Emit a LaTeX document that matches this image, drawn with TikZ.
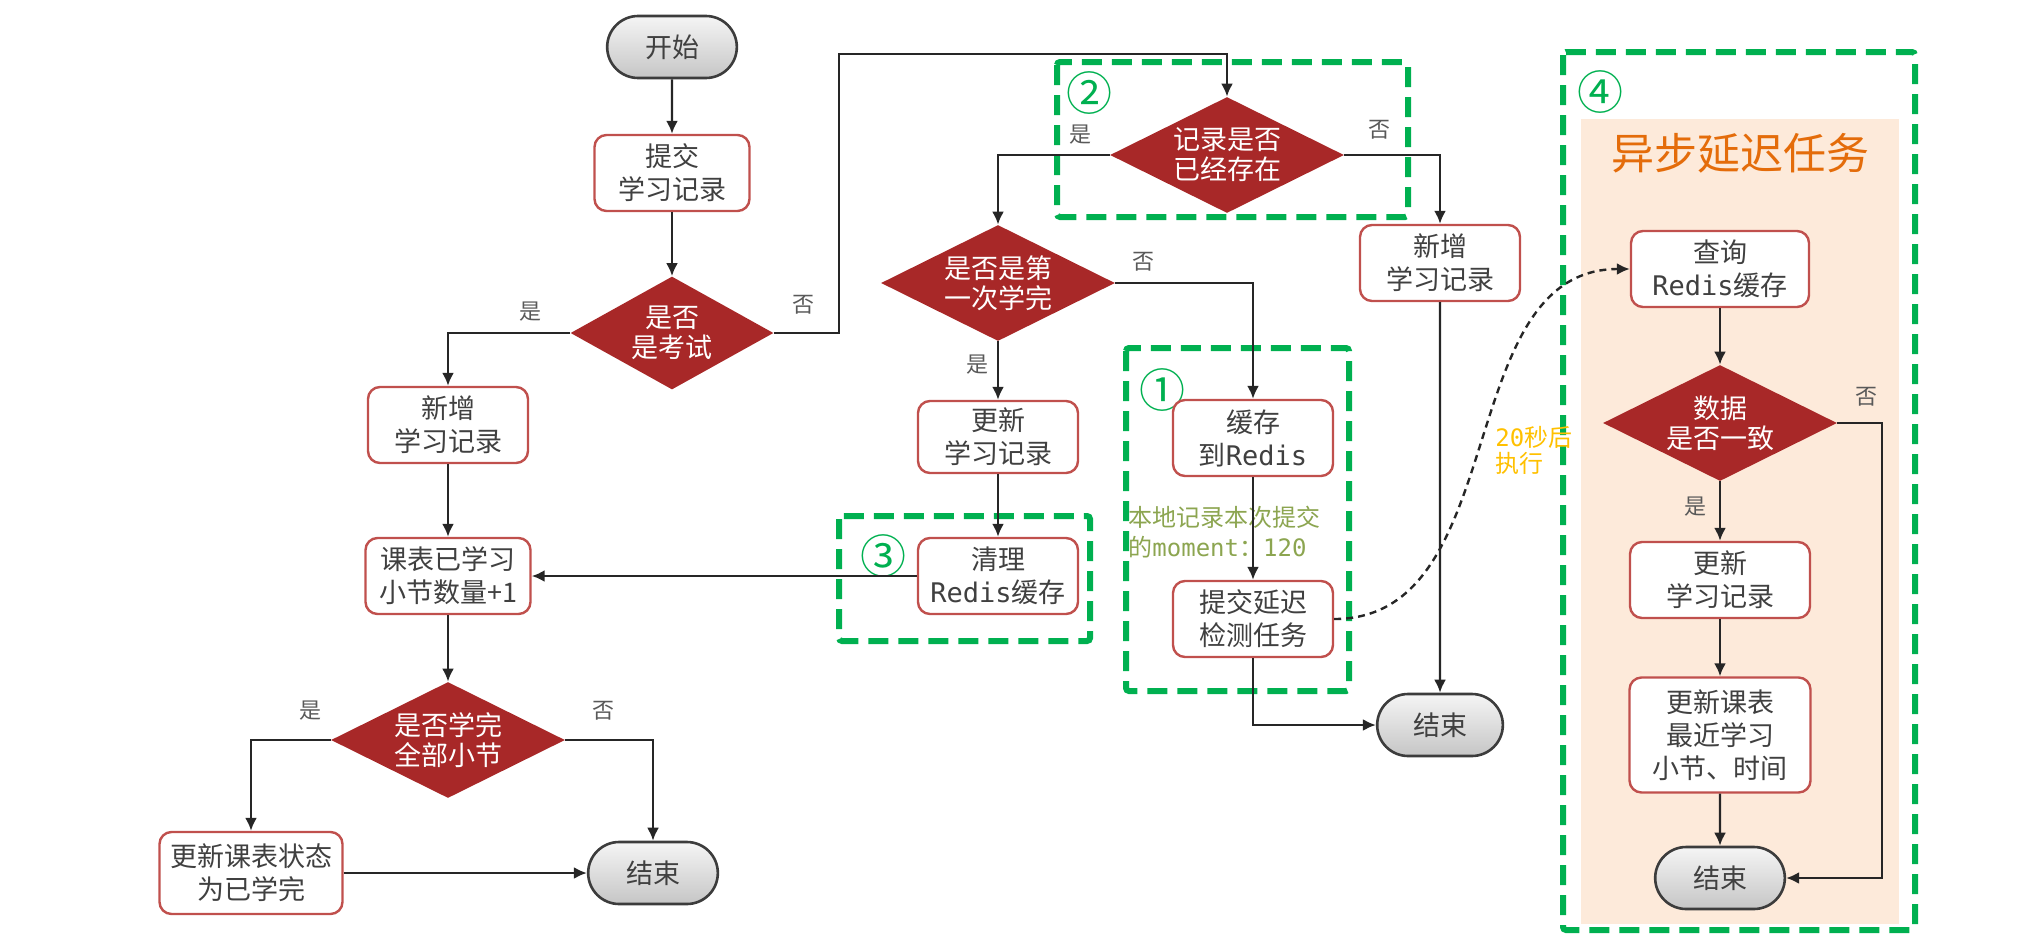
\documentclass[tikz,border=0pt]{standalone}
\usepackage{fontspec}
\setmainfont{Noto Sans CJK SC}
\newfontfamily\monof{DejaVu Sans Mono}
\usetikzlibrary{shapes.geometric,shapes.misc,arrows.meta}
\definecolor{boxred}{RGB}{192,80,77}
\definecolor{diared}{RGB}{168,40,40}
\definecolor{txtgray}{RGB}{64,64,64}
\definecolor{lblgray}{RGB}{89,89,89}
\definecolor{termgray}{RGB}{60,60,60}
\definecolor{grbox}{RGB}{0,176,80}
\definecolor{peach}{RGB}{253,234,218}
\definecolor{titleorange}{RGB}{228,108,10}
\definecolor{notegreen}{RGB}{140,165,80}
\definecolor{noteyellow}{RGB}{255,192,0}
\def\mo#1{{\monof #1}}

\begin{document}
\begin{tikzpicture}[x=0.5pt, y=-0.5pt,
	every node/.style={text=txtgray},
	box/.style={draw=boxred, line width=1.2pt, rounded corners=6pt, fill=white, align=center, minimum width=80pt, minimum height=38pt, inner sep=2pt, font=\fontsize{13.5}{16.5}\selectfont},
	term/.style={rounded rectangle, draw=termgray, line width=1.3pt, top color=gray!8, bottom color=gray!45, minimum width=71.5pt, minimum height=31pt, font=\fontsize{13.5}{16.5}\selectfont},
	decision/.style={diamond, aspect=2, inner sep=0pt, minimum width=117pt, minimum height=58pt, fill=diared, text=white, align=center, font=\fontsize{13.5}{15}\selectfont},
	yn/.style={text=lblgray, font=\fontsize{11}{13}\selectfont},
	flow/.style={draw=black!85, line width=1.2pt, -{Latex[length=6.5pt,width=6pt]}},
	zone/.style={draw=grbox, line width=3pt, dash pattern=on 10pt off 5pt, rounded corners=1.5pt},
	num/.style={text=grbox, inner sep=0pt, font=\fontsize{23}{23}\selectfont},
	note/.style={align=left, inner sep=0pt, font=\fontsize{12}{15}\selectfont},
	]
			%%%%% START %%%%%
			
			\useasboundingbox (0,0) rectangle (2017,938);
			
			\fill[peach] (1581,119) rectangle (1899,924);
			\draw[zone] (1126,348) rectangle (1349,691);
			\draw[zone] (1057,62) rectangle (1408,217);
			\draw[zone] (839,516) rectangle (1090,641);
			\draw[zone] (1563,52) rectangle (1915,930);
			
			\node[num] (n1) at (1162,390) {①};
			\node[num] (n2) at (1089,93) {②};
			\node[num] (n3) at (883,556) {③};
			\node[num] (n4) at (1600,92) {④};
			\node[text=titleorange, font=\fontsize{21.5}{24}\selectfont] (ttl) at (1740,153) {异步延迟任务};
			
			\node[term] (start) at (672,47) {开始};
			\node[box, minimum width=77.5pt] (submit) at (672,173) {提交\\学习记录};
			\node[decision, minimum width=101.5pt, minimum height=56.5pt] (exam) at (672,333) {是否\\是考试};
			\node[box] (addL) at (448,425) {新增\\学习记录};
			\node[box, minimum width=82.5pt] (countL) at (448,576) {课表已学习\\小节数量+1};
			\node[decision] (done) at (448,740) {是否学完\\全部小节};
			\node[box, minimum width=91.5pt, minimum height=41pt] (finishL) at (251,873) {更新课表状态\\为已学完};
			\node[term] (endL) at (653,873) {结束};
			
			\node[decision] (exists) at (1227,155) {记录是否\\已经存在};
			\node[decision] (first) at (998,283) {是否是第\\一次学完};
			\node[box, minimum height=36pt] (updM) at (998,437) {更新\\学习记录};
			\node[box] (clean) at (998,576) {清理\\\mo{Redis}缓存};
			\node[box] (cache) at (1253,438) {缓存\\到\mo{Redis}};
			\node[box] (delay) at (1253,619) {提交延迟\\检测任务};
			\node[box] (addR) at (1440,263) {新增\\学习记录};
			\node[term, minimum width=69.5pt] (endM) at (1440,725) {结束};
			
			\node[box, minimum width=89pt] (query) at (1720,269) {查询\\\mo{Redis}缓存};
			\node[decision] (same) at (1720,423) {数据\\是否一致};
			\node[box, minimum width=90pt] (updR) at (1720,580) {更新\\学习记录};
			\node[box, minimum width=90.5pt, minimum height=57.5pt] (course) at (1720,735) {更新课表\\最近学习\\小节、时间};
			\node[term] (endR) at (1720,878) {结束};
			
			\node[yn] (y1) at (530,312) {是};
			\node[yn] (o1) at (803,305) {否};
			\node[yn] (y2) at (1080,135) {是};
			\node[yn] (o2) at (1379,130) {否};
			\node[yn] (o3) at (1143,262) {否};
			\node[yn] (y3) at (977,365) {是};
			\node[yn] (y4) at (310,711) {是};
			\node[yn] (o4) at (603,711) {否};
			\node[yn] (o5) at (1866,397) {否};
			\node[yn] (y5) at (1695,507) {是};
			
			\node[note, text=notegreen, anchor=west] (memo) at (1128,532) {本地记录本次提交\\的\mo{moment}：\mo{120}};
			\node[note, text=noteyellow, anchor=west, font=\fontsize{12}{13}\selectfont] (wait) at (1495,450) {\mo{20}秒后\\执行};
			
			\coordinate (k1) at (839,54);
			\coordinate (k2) at (1882,878);
			
			\draw[flow] (start) -- (submit);
			\draw[flow] (submit) -- (exam);
			\draw[flow] (exam.west) -| (addL.north);
			\draw[flow] (exam.east) -| (k1) -| (exists.north);
			\draw[flow] (exists.west) -| (first.north);
			\draw[flow] (exists.east) -| (addR.north);
			\draw[flow] (first.south) -- (updM.north);
			\draw[flow] (first.east) -| (cache.north);
			\draw[flow] (updM) -- (clean);
			\draw[flow] (clean.west) -- (countL.east);
			\draw[flow] (addL) -- (countL);
			\draw[flow] (countL) -- (done);
			\draw[flow] (done.west) -| (finishL.north);
			\draw[flow] (done.east) -| (endL.north);
			\draw[flow] (finishL.east) -- (endL.west);
			\draw[flow] (cache) -- (delay);
			\draw[flow] (delay.south) |- (endM.west);
			\draw[flow] (addR) -- (endM);
			\draw[flow, dash pattern=on 3.5pt off 2.5pt] (delay.east) to[out=0, in=180] (query.west);
			\draw[flow] (query) -- (same);
			\draw[flow] (same) -- (updR);
			\draw[flow] (updR) -- (course);
			\draw[flow] (course) -- (endR);
			\draw[flow] (same.east) -| (k2) -- (endR.east);
			
			%%%%% END %%%%%
		\end{tikzpicture}
\end{document}
